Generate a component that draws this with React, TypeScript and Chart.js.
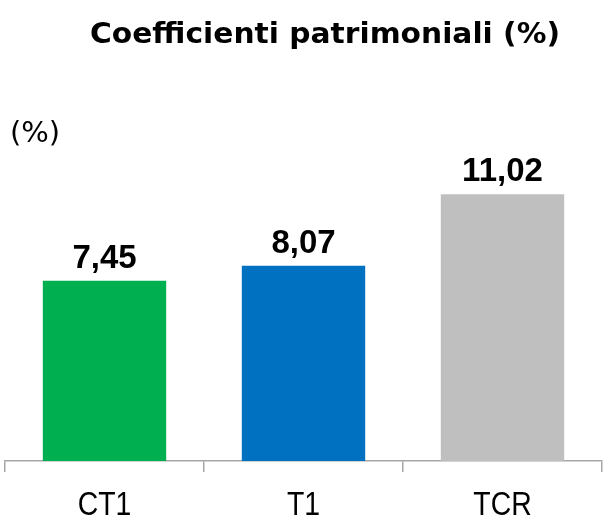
import React, { useEffect, useRef } from "react";
import { Chart, registerables } from "chart.js";

Chart.register(...registerables);

const TITLE = "Coefficienti patrimoniali (%)";
const UNIT = "(%)";
const categories = ["CT1", "T1", "TCR"];
const values = [7.45, 8.07, 11.02];
const valueLabels = ["7,45", "8,07", "11,02"];
const colors = ["#00B050", "#0070C0", "#BFBFBF"];

function fitText(ctx: any, text: string, cx: number, y: number, width: number) {
  const w = ctx.measureText(text).width;
  const s = width / w;
  ctx.save();
  ctx.translate(cx, y);
  ctx.scale(s, 1);
  ctx.textAlign = "center";
  ctx.fillText(text, 0, 0);
  ctx.restore();
}

const overlay = {
  id: "overlay",
  afterDatasetsDraw(chart: any) {
    const ctx = chart.ctx;
    ctx.save();
    ctx.fillStyle = "#000";
    ctx.textBaseline = "alphabetic";
    ctx.font = "bold 29px 'DejaVu Sans', sans-serif";
    fitText(ctx, TITLE, 325, 43, 470);
    ctx.textAlign = "left";
    ctx.font = "29px 'DejaVu Sans', sans-serif";
    ctx.fillText(UNIT, 10, 142);
    ctx.textAlign = "center";
    ctx.font = "bold 33px 'Liberation Sans', Arial, sans-serif";
    const meta = chart.getDatasetMeta(0);
    meta.data.forEach((bar: any, i: number) => {
      ctx.fillText(valueLabels[i], bar.x, bar.y - 13);
    });
    // category labels
    ctx.font = "33px 'Liberation Sans', Arial, sans-serif";
    const xs = chart.scales.x;
    categories.forEach((c, i) => {
      const x = xs.getPixelForValue(i);
      const w = ctx.measureText(c).width * 0.86;
      fitText(ctx, c, x, 515, w);
    });
    ctx.restore();
  },
};

export default function App() {
  const ref = useRef<HTMLCanvasElement>(null);
  useEffect(() => {
    const chart = new Chart(ref.current!, {
      type: "bar",
      data: {
        labels: categories,
        datasets: [
          {
            data: values,
            backgroundColor: colors,
            barPercentage: 0.62,
            categoryPercentage: 1,
          },
        ],
      },
      options: {
        animation: false,
        responsive: false,
        layout: { padding: { top: 98, left: 5, right: 1, bottom: 0 } },
        plugins: { legend: { display: false }, tooltip: { enabled: false }, title: { display: false } },
        scales: {
          y: { display: false, min: 0, max: 15 },
          x: {
            offset: true,
            grid: {
              offset: true,
              drawOnChartArea: false,
              drawTicks: true,
              tickLength: 11,
              color: "#A6A6A6",
              lineWidth: 1.5,
            },
            border: { color: "#A6A6A6", width: 1.5 },
            ticks: {
              color: "rgba(0,0,0,0)",
              padding: 12,
              font: { family: "'Liberation Sans', sans-serif", size: 29 },
            },
            afterFit(scale: any) {
              scale.height = 58;
            },
          },
        },
      },
      plugins: [overlay],
    });
    return () => chart.destroy();
  }, []);
  return (
    <div style={{ position: "absolute", left: 0, top: 0, width: 603, height: 519 }}>
      <canvas ref={ref} width={603} height={519} style={{ display: "block" }} />
    </div>
  );
}
